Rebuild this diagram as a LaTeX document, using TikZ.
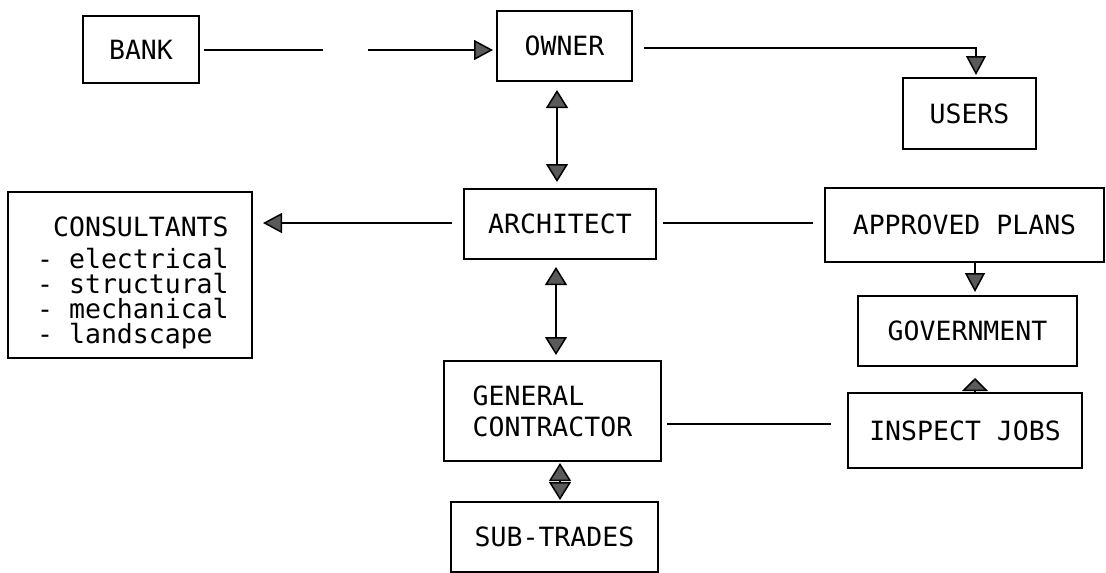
\documentclass[tikz,border=0pt]{standalone}
\usepackage{fontspec}
\newfontfamily\tw{DejaVu Sans Mono}
\usetikzlibrary{arrows.meta}
\definecolor{tipgray}{RGB}{90,90,90}
\tikzset{
  box/.style={draw, line width=1.5pt, inner sep=0pt, outer sep=0pt,
    font=\tw\fontsize{26.5}{31}\selectfont},
  con/.style={line width=1.5pt},
  arr/.style={con, -{Triangle[width=20pt,length=19pt,fill=tipgray]}},
  darr/.style={con, {Triangle[width=22pt,length=18pt,fill=tipgray]}-{Triangle[width=22pt,length=18pt,fill=tipgray]}},
  flatarr/.style={con, -{Triangle[width=26pt,length=13pt,fill=tipgray]}},
}
\begin{document}
\begin{tikzpicture}[x=1pt,y=-1pt]
\useasboundingbox (0,0) rectangle (1106,573);
% boxes
\node[box, minimum width=116, minimum height=67] (bank) at (141,49.5) {BANK};
\node[box, minimum width=135, minimum height=70] (owner) at (564.5,46) {OWNER};
\node[box, minimum width=133, minimum height=71] (users) at (969.5,113.5) {USERS};
\node[box, minimum width=192, minimum height=70] (arch) at (560,224) {ARCHITECT};
\node[box, minimum width=279, minimum height=74] (appr) at (964.5,225) {APPROVED PLANS};
\node[box, minimum width=244, minimum height=166] (cons) at (130,275) {};
\node[font=\tw\fontsize{26.5}{25}\selectfont, align=left, anchor=base west, inner sep=0pt]
  (constext) at (37,343) {\hphantom{-}CONSULTANTS\\[7pt]- electrical\\- structural\\- mechanical\\- landscape};
\node[box, minimum width=219, minimum height=70] (gov) at (967.5,331) {GOVERNMENT};
\node[box, minimum width=234, minimum height=75] (insp) at (965,430.5) {INSPECT JOBS};
\node[box, minimum width=217, minimum height=100, align=left] (gc) at (552.5,411) {GENERAL\\CONTRACTOR};
\node[box, minimum width=207, minimum height=70] (sub) at (554.5,537) {SUB-TRADES};
% connectors
\coordinate (gapA) at (323,50);
\coordinate (gapB) at (368,50);
\draw[con] ([shift={(5,0.5)}]bank.east) -- (gapA);
\draw[arr, shorten >=4pt] (gapB) -- (gapB -| owner.west);
\draw[arr, shorten >=3pt] ([shift={(12,2)}]owner.east) -| ([xshift=6.5]users.north);
\draw[darr, shorten <=9pt, shorten >=7pt] ([xshift=-7.5]owner.south) -- ([xshift=-3]arch.north);
\draw[arr, shorten <=12pt, shorten >=11pt] ([shift={(0,-1)}]arch.west) -- ([shift={(0,-1)}]arch.west -| cons.east);
\draw[con, shorten <=7pt, shorten >=12pt] ([shift={(0,-1)}]arch.east) -- ([shift={(0,-1)}]arch.east -| appr.west);
\draw[arr, shorten >=4pt] ([xshift=10.5]appr.south) -- ([xshift=7.5]gov.north);
\draw[flatarr, shorten >=12pt] ([xshift=10]insp.north) -- ([xshift=7.5]gov.south);
\draw[con] ([shift={(6,13)}]gc.east) -- ([shift={(-17,13)}]gc.east -| insp.west);
\draw[darr, shorten <=2pt, shorten >=2pt] ([xshift=7.5]gc.south) -- ([xshift=5.5]sub.north);
\draw[darr, shorten <=8pt, shorten >=6pt] ([xshift=-4]arch.south) -- ([xshift=3.5]gc.north);
\end{tikzpicture}
\end{document}
